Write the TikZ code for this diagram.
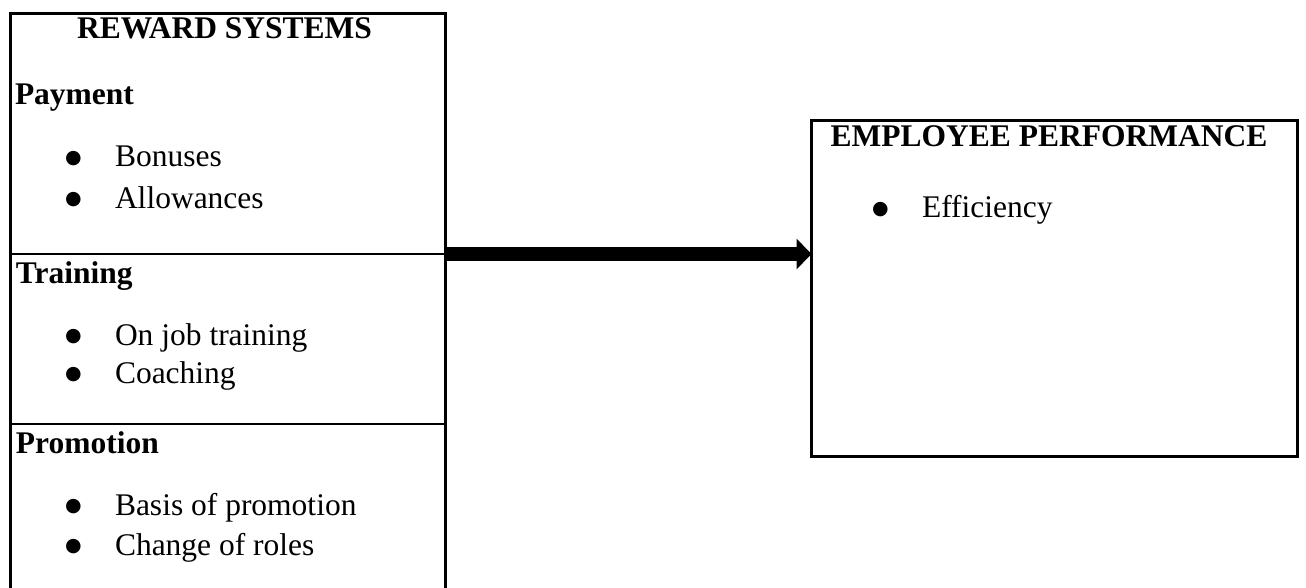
\documentclass[tikz,border=0pt]{standalone}
\usepackage{fontspec}
\setmainfont{Liberation Serif}
\newfontfamily\dotfont{DejaVu Sans}
\usetikzlibrary{arrows.meta, positioning}

\newcommand{\bul}{\makebox[50pt][l]{\raisebox{3.5pt}{\dotfont\fontsize{19}{19}\selectfont ●}}}

\begin{document}
\begin{tikzpicture}[
    x=1pt, y=-1pt,
    every node/.style={font=\fontsize{31.5}{36}\selectfont, inner sep=0pt, outer sep=0pt},
    panel/.style={rectangle, draw=black, line width=2.5pt, anchor=north west},
    title/.style={font=\fontsize{31.5}{36}\selectfont\bfseries, anchor=base},
    heading/.style={font=\fontsize{31.5}{36}\selectfont\bfseries, anchor=base west},
    entry/.style={anchor=base west},
    divider/.style={line width=2pt},
    bigarrow/.style={line width=14.5pt, -{Triangle[length=15pt, width=30pt]}}
]

% Page frame
\useasboundingbox (0,0) rectangle (1306,588);

% Reward systems box (runs off the bottom edge)
\node[panel, minimum width=435pt, minimum height=590pt] (reward) at (10.5,13.5) {};
\coordinate (cut1) at (0,254);
\coordinate (cut2) at (0,423.5);
\draw[divider] (reward.west |- cut1) -- (reward.east |- cut1);
\draw[divider] (reward.west |- cut2) -- (reward.east |- cut2);

\node[title] (rewardtitle) at (224.5,39) {REWARD SYSTEMS};

% Payment
\node[heading] (payment) at (15,105) {Payment};
\node[entry] (bonuses) at (65,167) {\bul Bonuses};
\node[entry] (allowances) at (65,208) {\bul Allowances};

% Training
\node[heading] (training) at (16,283) {Training};
\node[entry] (onjob) at (65,345) {\bul On job training};
\node[entry] (coaching) at (65,383) {\bul Coaching};

% Promotion
\node[heading] (promotion) at (16,453) {Promotion};
\node[entry] (basis) at (65,515) {\bul Basis of promotion};
\node[entry] (roles) at (65,555) {\bul Change of roles};

% Employee performance box
\node[panel, minimum width=486pt, minimum height=336pt] (perf) at (811.5,120.5) {};
\node[title] (perftitle) at (1049,147) {EMPLOYEE PERFORMANCE};
\node[entry] (efficiency) at (872,218) {\bul Efficiency};

% Link
\draw[bigarrow] (reward.east |- cut1) -- (perf.west |- cut1);

\end{tikzpicture}
\end{document}
